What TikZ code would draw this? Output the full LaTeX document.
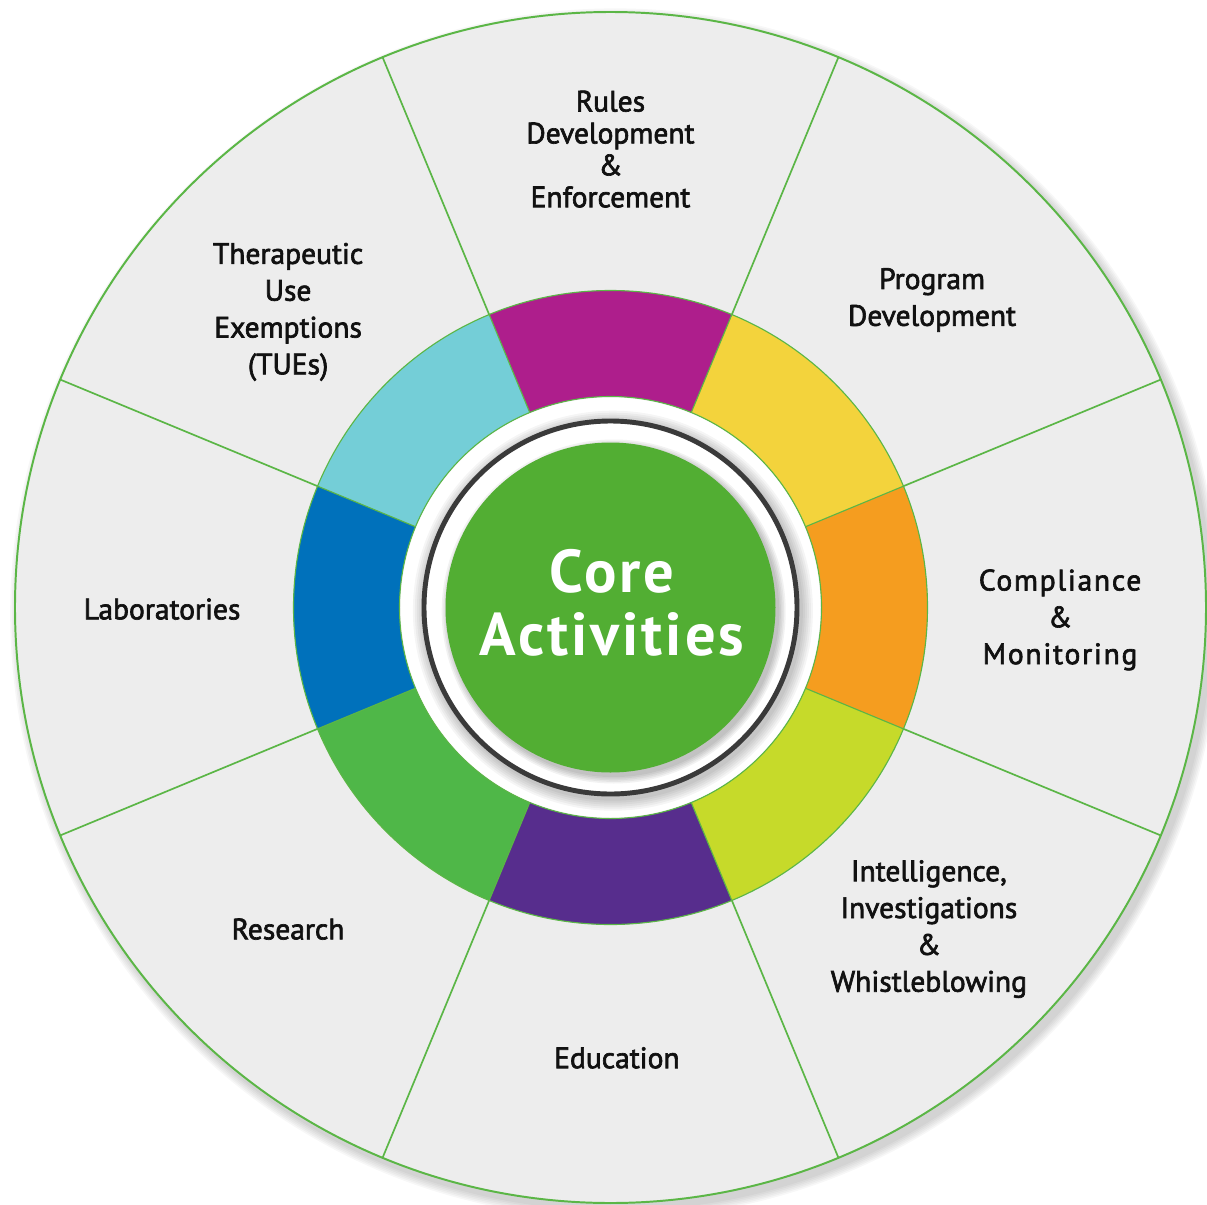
\documentclass[tikz,border=0pt]{standalone}
\usepackage{fontspec}
\setmainfont{PT Sans}
\newfontfamily\labelfont[FakeBold=2.2]{PT Sans}
\newfontfamily\widelabelfont[FakeBold=2.2,LetterSpace=6]{PT Sans}
\newfontfamily\corefont[LetterSpace=5]{PT Sans}
\definecolor{rim}{HTML}{5BB646}
\definecolor{disc}{HTML}{EDEDED}
\definecolor{ink}{HTML}{111111}
\definecolor{coregreen}{HTML}{52AE33}
\definecolor{darkring}{HTML}{3A3A3A}
\definecolor{segmagenta}{HTML}{AE1E8C}
\definecolor{segyellow}{HTML}{F3D33C}
\definecolor{segorange}{HTML}{F59D1F}
\definecolor{seglime}{HTML}{C6DA2A}
\definecolor{segpurple}{HTML}{572D8D}
\definecolor{seggreen}{HTML}{4FB748}
\definecolor{segblue}{HTML}{0071BB}
\definecolor{segcyan}{HTML}{74CED7}
\usetikzlibrary{positioning}
\tikzset{
  lbl/.style={font=\labelfont\fontsize{21}{26.2}\selectfont, align=center, text=ink, inner sep=0pt},
  corelbl/.style={font=\corefont\fontsize{43}{45}\selectfont\bfseries, align=center, text=white, inner sep=0pt},
  spoke/.style={draw=rim, line width=1.2pt},
  segline/.style={draw=rim, line width=0.8pt},
}
\begin{document}
\begin{tikzpicture}
\useasboundingbox (-15.2625,-14.9125) rectangle (14.9125,15.1875);
% outer disc with soft shadow
\foreach \i in {1,...,6}
  \fill[black, opacity=0.03] (0.12,-0.15) circle ({14.8875+0.04*\i});
\fill[disc] (0,0) circle (14.8875);
\coordinate (c) at (0,0);
% colour ring
\foreach \col [count=\k from 0] in {segorange,segyellow,segmagenta,segcyan,segblue,seggreen,segpurple,seglime}
  \fill[\col] ({45*\k-22.5}:7.925) arc ({45*\k-22.5}:{45*\k+22.5}:7.925)
    -- ({45*\k+22.5}:5.275) arc ({45*\k+22.5}:{45*\k-22.5}:5.275) -- cycle;
\foreach \a in {22.5,67.5,...,337.5}{
  \draw[spoke] (\a:7.925) -- (\a:14.8875);
  \draw[segline] (\a:5.275) -- (\a:7.925);
}
\draw[segline] (c) circle (7.925);
\draw[segline] (c) circle (5.275);
\draw[rim, line width=1.4pt] (c) circle (14.8875);
% centre
\fill[white] (c) circle (5.25);
\foreach \i in {1,...,6}
  \fill[black, opacity=0.04] (0.06,-0.08) circle ({4.70+0.05*\i});
\draw[darkring, line width=3.5pt, fill=white] (c) circle (4.6625);
\foreach \i in {1,...,5}
  \fill[black, opacity=0.05] (0.08,-0.1) circle ({4.10+0.04*\i});
\fill[coregreen] (c) circle (4.125);
\node[corelbl] (core) at (0.04,0.11) {Core\\Activities};
% labels
\node[lbl, font=\labelfont\fontsize{21}{22.7}\selectfont] (rules) at (0,11.46) {Rules\\Development\\\&\\Enforcement};
\node[lbl] (program) at (8.04,7.69) {Program\\Development};
\node[lbl, font=\widelabelfont\fontsize{21}{26.2}\selectfont] (compliance) at (11.24,-0.31) {Compliance\\\&\\Monitoring};
\node[lbl] (intel) at (7.96,-8.04) {Intelligence,\\Investigations\\\&\\Whistleblowing};
\node[lbl] (education) at (0.16,-11.26) {Education};
\node[lbl] (research) at (-8.06,-8.04) {Research};
\node[lbl] (labs) at (-11.21,-0.04) {Laboratories};
\node[lbl] (tue) at (-8.06,7.39) {Therapeutic\\Use\\Exemptions\\(TUEs)};
\end{tikzpicture}
\end{document}
